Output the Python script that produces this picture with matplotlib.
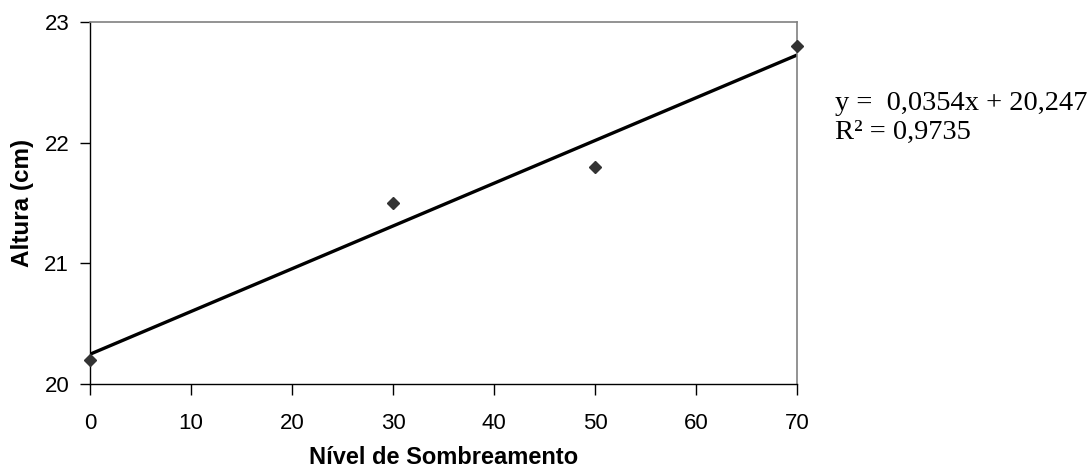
import numpy as np
import matplotlib
matplotlib.use('Agg')
import matplotlib.pyplot as plt

# data
sombreamento = [0, 30, 50, 70]
altura = [20.2, 21.5, 21.8, 22.8]
xticks = [0, 10, 20, 30, 40, 50, 60, 70]
yticks = [20, 21, 22, 23]

plt.rcParams['font.family'] = ['Liberation Sans', 'DejaVu Sans']

fig = plt.figure(figsize=(10.91, 4.71), dpi=100)
ax = fig.add_axes([90/1091, 1 - 384/471, (797 - 90)/1091, (384 - 22)/471])

# linear trend
coef = np.polyfit(sombreamento, altura, 1)
xfit = np.array([min(sombreamento), max(sombreamento)])
ax.plot(xfit, np.polyval(coef, xfit), color='black', lw=2.4, zorder=2)
ax.plot(sombreamento, altura, 'D', color='#333333', ms=6.5, zorder=3, clip_on=False)

ax.set_xlim(0, 70)
ax.set_ylim(20, 23)
ax.set_xticks(xticks)
ax.set_yticks(yticks)
ax.tick_params(axis='x', direction='out', length=8, width=1, pad=13, labelsize=16)
ax.tick_params(axis='y', direction='out', length=7, width=1, pad=8, labelsize=16)

for s in ['left', 'bottom']:
    ax.spines[s].set_color('black')
    ax.spines[s].set_linewidth(1.0)
for s in ['top', 'right']:
    ax.spines[s].set_color('#808080')
    ax.spines[s].set_linewidth(1.2)

ax.set_xlabel('Nível de Sombreamento', fontsize=17, fontweight='bold', va='center')
ax.xaxis.set_label_coords(0.5, (384 - 458) / 362)
ax.set_ylabel('Altura (cm)', fontsize=17.5, fontweight='bold', va='center')
ax.yaxis.set_label_coords(-(90 - 22) / 707, 0.5)

eq = 'y =  %.4fx + %.3f' % (coef[0], coef[1])
eq = eq.replace('.', ',')
fig.text(835/1091, 1 - 103/471, eq, family=['Liberation Serif', 'DejaVu Serif'],
         fontsize=20.5, va='center', ha='left')
fig.text(835/1091, 1 - 132/471, 'R² = 0,9735', family=['Liberation Serif', 'DejaVu Serif'],
         fontsize=20.5, va='center', ha='left')

fig.savefig('out.png', dpi=100)
